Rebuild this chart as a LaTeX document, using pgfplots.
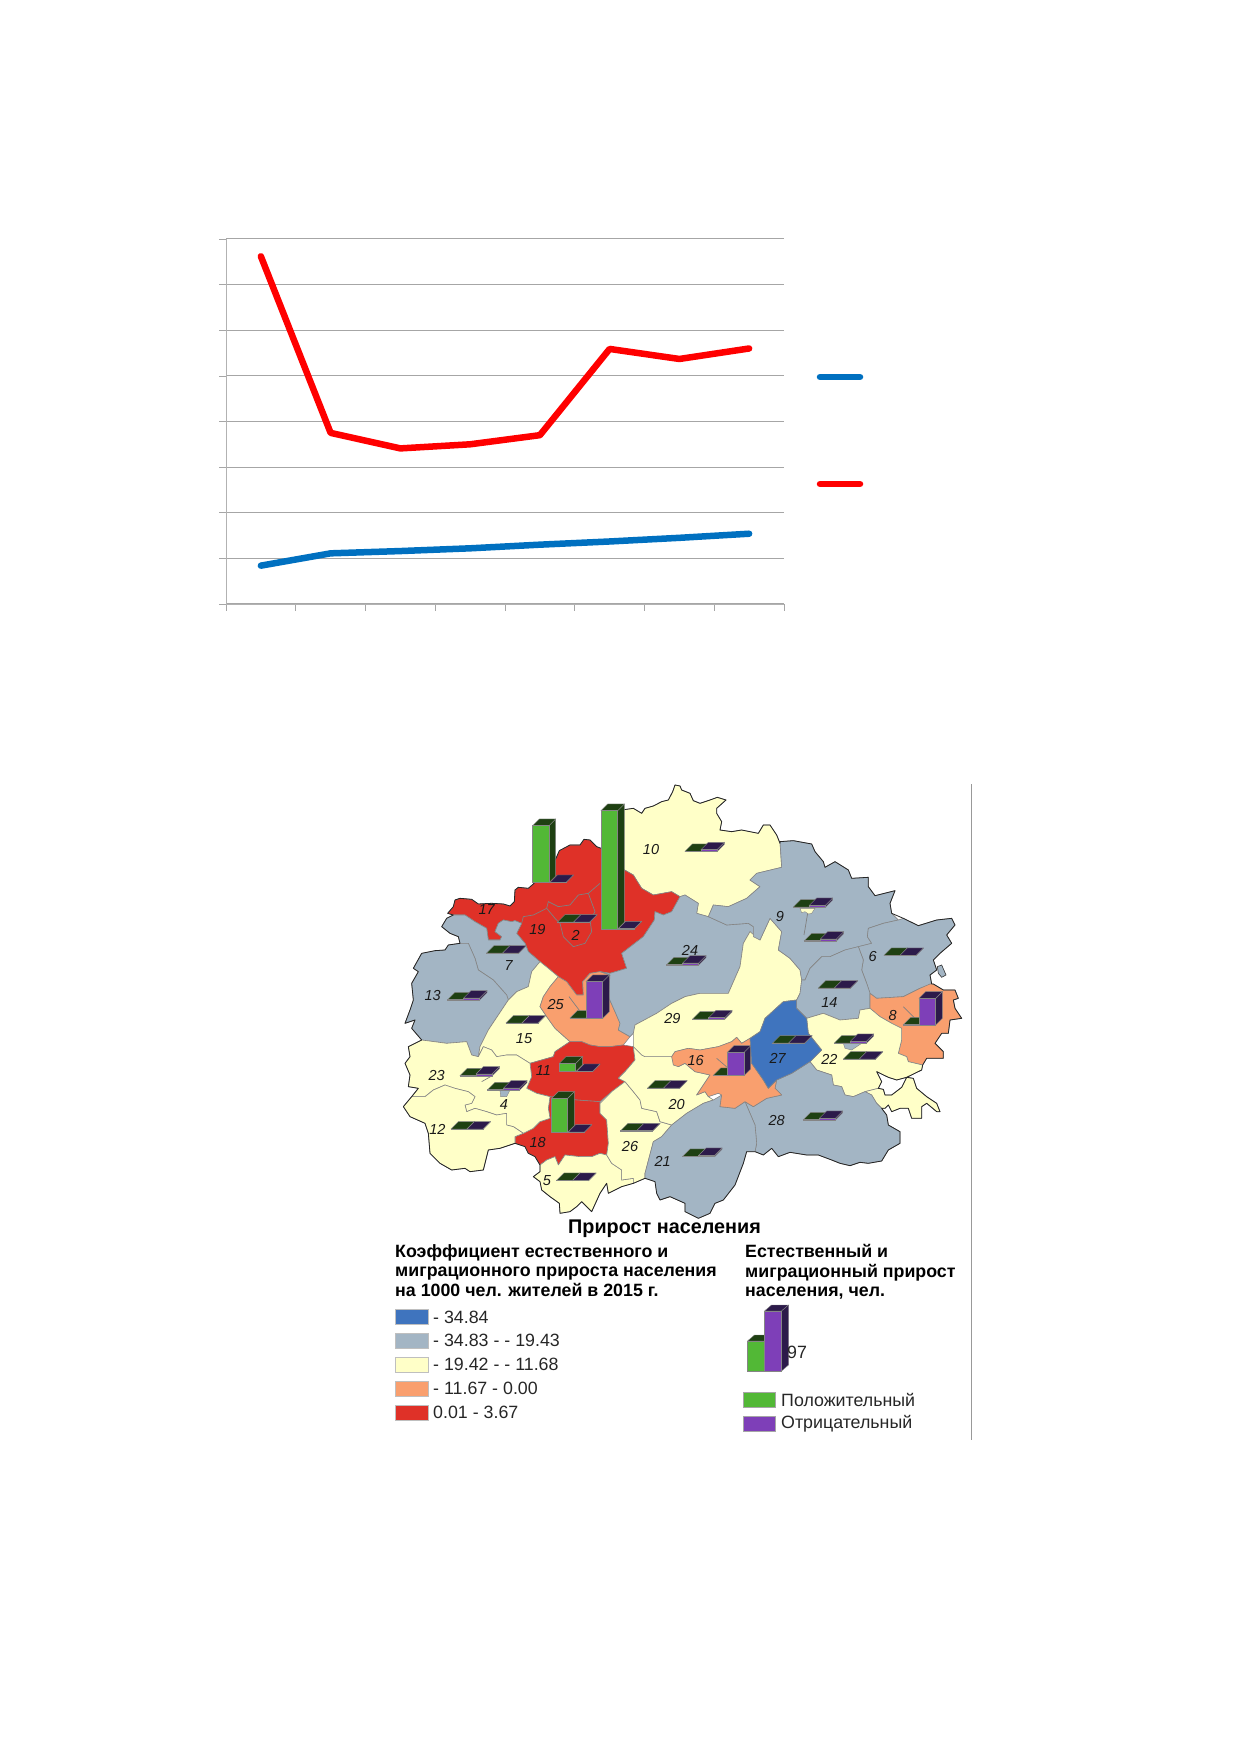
\documentclass[border=0pt]{standalone}
\usepackage{fontspec}
\setmainfont{Liberation Sans}
\usepackage{pgfplots}
\pgfplotsset{compat=1.18}
\definecolor{cgray}{HTML}{A3B5C4}
\definecolor{ccream}{HTML}{FFFFC8}
\definecolor{corange}{HTML}{F99F6E}
\definecolor{cred}{HTML}{DF3128}
\definecolor{cblue}{HTML}{3F74BE}
\definecolor{gfront}{HTML}{52B836}
\definecolor{gdark}{HTML}{1E4012}
\definecolor{pfront}{HTML}{7E3FB8}
\definecolor{pdark}{HTML}{2C1A4A}
\definecolor{bnd}{HTML}{858585}
\definecolor{lineblue}{HTML}{0070C0}
\newcommand\rg[2]{\addplot[fill=#1,draw=bnd,line width=0.6pt,line join=round] coordinates {#2} -- cycle;}
\newcommand\bx[7]{%
 \pgfmathsetmacro\xa{#1}\pgfmathsetmacro\xb{#1+#3}\pgfmathsetmacro\xc{#1+#3+#7}\pgfmathsetmacro\xd{#1+#7}%
 \pgfmathsetmacro\ya{#2}\pgfmathsetmacro\yb{#2-#4}\pgfmathsetmacro\yc{#2-#4-#7}\pgfmathsetmacro\yd{#2-#7}%
 \addplot[fill=#6,draw=bnd,line width=0.4pt] coordinates {(\xb,\ya)(\xc,\yd)(\xc,\yc)(\xb,\yb)} -- cycle;
 \addplot[fill=#6,draw=bnd,line width=0.4pt] coordinates {(\xa,\yb)(\xb,\yb)(\xc,\yc)(\xd,\yc)} -- cycle;
 \addplot[fill=#5,draw=bnd,line width=0.4pt] coordinates {(\xa,\ya)(\xb,\ya)(\xb,\yb)(\xa,\yb)} -- cycle;
}
\newcommand\flatP[3]{\bx{#1}{#2}{48}{#3}{pfront}{pdark}{22}}
\newcommand\flatG[2]{\bx{#1}{#2}{48}{1}{gfront}{gdark}{22}}
\newcommand\gl[3]{\flatG{#1}{#2}\pgfmathsetmacro\xq{#1+48}\flatP{\xq}{#2}{#3}}
\newcommand\lb[3]{\node[font=\fontsize{14.5}{16}\selectfont\itshape,text=black!90] at (axis cs:#1,#2) {#3};}
\begin{document}
\begin{tikzpicture}[x=1pt,y=1pt]
\path[use as bounding box] (0,0) rectangle (1239,1752);
% line chart
\begin{axis}[at={(226pt,1148pt)},anchor=south west,scale only axis,width=558pt,height=365pt,
 xmin=0,xmax=8,ymin=0,ymax=8,xtick={0,...,8},ytick={0,...,8},xticklabels={},yticklabels={},
 axis lines*=left,axis line style={-,draw=black!30,line width=0.8pt},
 ymajorgrids,grid style={draw=black!35,line width=1pt},
 tick align=outside,major tick length=7pt,tick style={draw=black!35,line width=0.7pt},clip=false]
\addplot[lineblue,line width=6.5pt,line cap=round,line join=round] coordinates {(0.5,0.84)(1.5,1.11)(2.5,1.16)(3.5,1.22)(4.5,1.30)(5.5,1.37)(6.5,1.45)(7.5,1.54)};
\addplot[red,line width=6.5pt,line cap=round,line join=round] coordinates {(0.5,7.62)(1.5,3.75)(2.5,3.41)(3.5,3.50)(4.5,3.70)(5.5,5.59)(6.5,5.37)(7.5,5.60)};
\end{axis}
% page overlay: legends
\begin{axis}[at={(0pt,0pt)},anchor=south west,scale only axis,width=1239pt,height=1752pt,
 xmin=0,xmax=1239,ymin=0,ymax=1752,y dir=reverse,hide axis,clip=false]
\addplot[lineblue,line width=6.5pt,line cap=round] coordinates {(820,377)(860,377)};
\addplot[red,line width=6.5pt,line cap=round] coordinates {(820,484)(860,484)};
\addplot[draw=black!40,line width=1pt] coordinates {(971,784)(971,1440)};
\addplot[fill=cblue,draw=black!25] coordinates {(395.5,1309)(428,1309)(428,1324)(395.5,1324)} -- cycle;
\addplot[fill=cgray,draw=black!25] coordinates {(395.5,1333)(428,1333)(428,1348)(395.5,1348)} -- cycle;
\addplot[fill=ccream,draw=black!25] coordinates {(395.5,1357)(428,1357)(428,1372)(395.5,1372)} -- cycle;
\addplot[fill=corange,draw=black!25] coordinates {(395.5,1381)(428,1381)(428,1396)(395.5,1396)} -- cycle;
\addplot[fill=cred,draw=black!25] coordinates {(395.5,1405)(428,1405)(428,1420)(395.5,1420)} -- cycle;
\addplot[fill=gfront,draw=black!35] coordinates {(743,1392)(775,1392)(775,1407)(743,1407)} -- cycle;
\addplot[fill=pfront,draw=black!35] coordinates {(743,1416)(775,1416)(775,1431)(743,1431)} -- cycle;
% legend bars
\addplot[fill=gdark,draw=bnd,line width=.4pt] coordinates {(747.5,1341)(754.5,1335)(771.5,1335)(764.5,1341)} -- cycle;
\addplot[fill=gfront,draw=bnd,line width=.4pt] coordinates {(747.5,1341)(764.5,1341)(764.5,1371)(747.5,1371)} -- cycle;
\addplot[fill=pdark,draw=bnd,line width=.4pt] coordinates {(764.5,1311)(771.5,1305)(788.5,1305)(781.5,1311)} -- cycle;
\addplot[fill=pdark,draw=bnd,line width=.4pt] coordinates {(781.5,1311)(788.5,1305)(788.5,1365)(781.5,1371)} -- cycle;
\addplot[fill=pfront,draw=bnd,line width=.4pt] coordinates {(764.5,1311)(781.5,1311)(781.5,1371)(764.5,1371)} -- cycle;
\node[font=\fontsize{19.8}{22}\selectfont\bfseries] at (axis cs:664.5,1229) {Прирост населения};
\node[font=\fontsize{17.8}{19.3}\selectfont\bfseries,anchor=north west,align=left,inner sep=0pt] at (axis cs:395,1244.5) {Коэффициент естественного и\\миграционного прироста населения\\на 1000 чел. жителей в 2015 г.};
\node[font=\fontsize{17.8}{19.3}\selectfont\bfseries,anchor=north west,align=left,inner sep=0pt] at (axis cs:745,1244.5) {Естественный и\\миграционный прирост\\населения, чел.};
\foreach \yy/\tt in {1317/{- 34.84},1340/{- 34.83 - - 19.43},1364/{- 19.42 - - 11.68},1388/{- 11.67 - 0.00},1412/{0.01 - 3.67}}{
 \edef\tmp{\noexpand\node[font=\noexpand\fontsize{17.8}{20}\noexpand\selectfont,anchor=west,inner sep=0pt,text=black!85] at (axis cs:433,\yy) {\tt};}\tmp}
\node[font=\fontsize{17.8}{20}\selectfont,anchor=west,inner sep=0pt,text=black!85] at (axis cs:781,1400) {Положительный};
\node[font=\fontsize{17.8}{20}\selectfont,anchor=west,inner sep=0pt,text=black!85] at (axis cs:781,1424) {Отрицательный};
\node[font=\fontsize{17.8}{20}\selectfont,inner sep=0pt,text=black!85] at (axis cs:797,1352) {97};
\end{axis}
% map: coordinates are (px-400)*3, (py-780)*3
\begin{axis}[at={(400pt,532pt)},anchor=south west,scale only axis,width=580pt,height=440pt,
 xmin=0,xmax=1740,ymin=0,ymax=1320,y dir=reverse,hide axis,clip=false]
% 10
\rg{ccream}{(665,90)(700,85)(725,100)(735,85)(760,78)(785,65)(805,60)(818,35)(825,15)(840,18)(845,30)(870,40)(880,62)(900,70)(930,60)(952,52)(978,60)(950,85)(950,100)(965,125)(960,150)(995,155)(1025,150)(1050,155)(1075,160)(1090,135)(1110,135)(1130,165)(1140,190)(1145,262)(1070,280)(1050,300)(1080,320)(1040,355)(985,380)(940,375)(925,410)(890,400)(895,370)(855,345)(840,350)(815,335)(760,345)(725,325)(700,285)(665,265)}
% red north
\rg{cred}{(143,400)(160,380)(165,360)(180,355)(215,358)(235,372)(275,370)(310,372)(330,378)(343,365)(345,330)(355,322)(385,325)(400,312)(447,260)(468,235)(478,212)(510,195)(540,195)(552,178)(570,180)(590,200)(603,205)(640,235)(665,265)(700,285)(725,325)(760,345)(815,335)(840,350)(815,395)(790,405)(765,395)(763,420)(730,470)(665,520)(680,565)(630,580)(600,575)(570,580)(548,605)(550,645)(530,645)(500,605)(475,590)(445,565)(420,545)(385,515)(375,490)(350,460)(365,430)(345,422)(335,425)(310,420)(295,430)(285,455)(305,470)(300,480)(265,480)(260,445)(225,425)(195,405)(160,405)}
\addplot[draw=black!50,line width=0.7pt] coordinates {(365,430)(370,410)(400,405)(440,385)(445,365)(475,380)(510,375)(535,345)(565,340)(600,310)};
\addplot[draw=black!50,line width=0.7pt] coordinates {(440,385)(465,415)(480,430)(490,470)(520,500)(555,490)(575,455)(570,420)(585,395)(565,340)};
% 7
\rg{cgray}{(125,440)(140,415)(160,405)(195,405)(225,425)(260,445)(265,480)(300,480)(305,470)(285,455)(295,430)(310,420)(335,425)(345,422)(365,430)(350,460)(375,490)(385,515)(420,545)(395,575)(385,620)(350,635)(325,660)(320,645)(280,600)(235,570)(225,535)(205,490)(180,490)(175,470)(150,460)}
% 13
\rg{cgray}{(65,520)(105,512)(135,510)(145,495)(180,490)(205,490)(225,535)(235,570)(280,600)(320,645)(325,660)(295,705)(265,750)(240,800)(235,830)(215,825)(200,785)(140,790)(65,780)(35,745)(45,720)(15,730)(30,690)(40,660)(35,610)(55,575)(40,565)}
% 15
\rg{ccream}{(420,545)(445,565)(475,590)(450,620)(430,650)(420,680)(440,710)(465,745)(510,785)(465,815)(460,830)(390,850)(350,825)(320,825)(290,830)(275,810)(250,800)(235,830)(240,800)(265,750)(295,705)(325,660)(350,635)(385,620)(395,575)}
% 25
\rg{corange}{(475,590)(500,605)(530,645)(550,645)(548,605)(570,580)(600,575)(630,585)(625,650)(645,695)(660,730)(655,750)(690,770)(670,795)(630,800)(600,800)(570,795)(545,785)(510,785)(465,745)(440,710)(420,680)(430,650)(450,620)}
% 24
\rg{cgray}{(600,575)(630,580)(680,565)(665,520)(730,470)(763,420)(765,395)(790,405)(815,395)(840,350)(855,345)(895,370)(890,400)(925,410)(980,435)(1045,430)(1060,440)(1060,470)(1050,455)(1030,490)(1020,560)(985,640)(900,640)(855,650)(815,670)(770,700)(705,735)(700,760)(690,770)(655,750)(660,730)(645,695)(625,650)(630,585)}
% 11
\rg{cred}{(510,785)(545,785)(570,795)(600,800)(630,800)(670,795)(700,800)(705,840)(675,875)(655,895)(675,905)(635,935)(600,965)(530,960)(450,950)(410,940)(380,925)(395,890)(390,850)(460,830)(465,815)}
% 18
\rg{cred}{(450,950)(530,960)(600,965)(600,1000)(620,1020)(625,1090)(620,1125)(600,1120)(575,1130)(540,1130)(495,1125)(475,1155)(465,1130)(440,1140)(420,1155)(405,1130)(385,1120)(375,1100)(345,1090)(345,1070)(370,1060)(400,1045)(420,1025)(450,1015)(445,985)}
% 5
\rg{ccream}{(420,1155)(440,1140)(465,1130)(475,1155)(495,1125)(540,1130)(575,1130)(600,1120)(620,1125)(635,1150)(665,1170)(665,1200)(700,1195)(700,1210)(665,1220)(625,1240)(620,1210)(600,1240)(575,1295)(545,1265)(530,1280)(510,1295)(480,1300)(478,1270)(450,1250)(425,1230)(420,1205)(400,1190)(420,1175)}
% 26
\rg{ccream}{(600,970)(635,935)(675,905)(700,935)(720,960)(725,985)(770,995)(780,1025)(815,1035)(785,1070)(760,1085)(735,1180)(735,1195)(700,1210)(700,1195)(665,1200)(665,1170)(635,1150)(620,1125)(625,1090)(620,1020)(600,1000)}
% 20
\rg{ccream}{(675,905)(655,895)(675,875)(705,840)(700,800)(725,825)(735,830)(815,830)(835,860)(855,850)(885,875)(930,885)(910,915)(890,945)(915,935)(925,950)(940,960)(910,970)(860,1000)(815,1035)(780,1025)(770,995)(725,985)(720,960)(700,935)}
% 29
\rg{ccream}{(700,800)(700,760)(705,735)(770,700)(815,670)(855,650)(900,640)(985,640)(1020,560)(1030,490)(1050,455)(1080,480)(1110,415)(1145,455)(1135,510)(1170,535)(1200,570)(1205,600)(1200,640)(1190,660)(1150,665)(1095,715)(1080,755)(1050,775)(1025,790)(1010,772)(995,785)(955,800)(900,810)(865,805)(825,815)(815,830)(735,830)(725,825)}
% 9
\rg{cgray}{(925,410)(940,375)(985,380)(1040,355)(1080,320)(1050,300)(1070,280)(1145,262)(1140,185)(1180,182)(1235,192)(1245,215)(1270,245)(1275,262)(1305,245)(1345,270)(1355,295)(1405,292)(1405,320)(1425,347)(1485,332)(1470,370)(1475,400)(1495,420)(1450,430)(1405,445)(1402,470)(1415,490)(1375,500)(1335,510)(1290,530)(1265,530)(1230,565)(1215,600)(1205,600)(1200,570)(1170,535)(1135,510)(1145,455)(1110,415)(1080,480)(1060,470)(1060,440)(1045,430)(980,435)}
\addplot[fill=ccream,draw=bnd,line width=.4pt] coordinates {(1200,385)(1245,385)(1235,400)(1225,402)(1215,395)(1205,398)} -- cycle;
\addplot[draw=black!50,line width=.7pt] coordinates {(1223,400)(1212,465)};
% 6
\rg{cgray}{(1495,420)(1510,415)(1555,437)(1610,420)(1655,415)(1665,435)(1640,465)(1655,490)(1620,520)(1600,540)(1610,570)(1590,585)(1595,612)(1560,625)(1510,650)(1430,655)(1410,640)(1400,610)(1385,570)(1390,540)(1375,500)(1415,490)(1402,470)(1405,445)(1450,430)}
% lake
\addplot[fill=cgray,draw=black!80,line width=.6pt] coordinates {(1612,560)(1625,555)(1638,585)(1625,592)(1615,580)} -- cycle;
% 14
\rg{cgray}{(1205,600)(1215,600)(1230,565)(1265,530)(1290,530)(1335,510)(1375,500)(1390,540)(1385,570)(1400,610)(1410,640)(1410,685)(1380,690)(1375,715)(1320,720)(1270,700)(1220,715)(1190,685)(1190,660)(1200,640)}
% 8
\rg{corange}{(1410,640)(1430,655)(1510,650)(1560,625)(1590,612)(1600,612)(1630,630)(1665,630)(1675,655)(1660,660)(1665,685)(1685,715)(1650,720)(1645,760)(1625,760)(1605,790)(1630,815)(1630,835)(1580,835)(1568,855)(1525,845)(1520,830)(1495,820)(1505,780)(1505,745)(1475,730)(1440,710)(1410,685)}
% 22
\rg{ccream}{(1220,715)(1270,700)(1320,720)(1375,715)(1380,690)(1410,685)(1440,710)(1475,730)(1505,745)(1505,780)(1495,820)(1520,830)(1525,845)(1568,855)(1565,870)(1520,892)(1490,900)(1465,892)(1430,875)(1445,905)(1435,925)(1395,935)(1360,950)(1335,945)(1325,920)(1300,915)(1295,885)(1250,870)(1230,845)(1265,810)(1225,760)}
\addplot[fill=cgray,draw=bnd,line width=.4pt] coordinates {(1330,790)(1355,785)(1385,790)(1355,810)(1335,805)} -- cycle;
% east cream
\rg{ccream}{(1520,892)(1540,895)(1550,925)(1580,950)(1610,970)(1620,995)(1610,995)(1580,970)(1565,980)(1565,1015)(1535,1015)(1525,985)(1500,985)(1475,995)(1465,975)(1455,985)(1445,985)(1430,970)(1415,945)(1395,935)(1435,925)(1450,928)(1455,945)(1475,945)(1505,922)}
% 28
\rg{cgray}{(1130,900)(1175,880)(1230,845)(1250,870)(1295,885)(1300,915)(1325,920)(1335,945)(1360,950)(1395,935)(1415,945)(1430,970)(1445,985)(1460,1005)(1465,1035)(1500,1055)(1500,1090)(1465,1110)(1445,1143)(1405,1150)(1380,1147)(1350,1157)(1320,1150)(1295,1140)(1255,1125)(1220,1125)(1170,1117)(1135,1130)(1115,1105)(1090,1125)(1065,1115)(1070,1090)(1065,1035)(1050,1000)(1035,965)(1060,980)(1100,955)(1145,945)(1125,925)}
% 21
\rg{cgray}{(815,1035)(860,1000)(910,970)(940,960)(965,945)(960,980)(1005,985)(1035,965)(1050,1000)(1065,1035)(1070,1090)(1065,1115)(1040,1115)(1030,1150)(1005,1215)(970,1260)(945,1270)(930,1300)(895,1315)(855,1295)(855,1270)(810,1250)(780,1260)(770,1240)(765,1205)(735,1195)(735,1180)(760,1085)(785,1070)}
% 16
\rg{corange}{(825,815)(865,805)(900,810)(955,800)(995,785)(1010,772)(1025,790)(1050,775)(1055,850)(1090,900)(1105,925)(1130,900)(1125,925)(1145,945)(1100,955)(1060,980)(1035,965)(1005,985)(960,980)(965,945)(955,940)(925,950)(915,935)(890,945)(910,915)(930,885)(885,875)(855,850)(835,860)(820,855)(815,830)}
% 27
\rg{cblue}{(1050,775)(1080,755)(1095,715)(1150,665)(1190,660)(1190,685)(1220,715)(1225,760)(1265,810)(1230,845)(1175,880)(1130,900)(1105,925)(1090,900)(1055,850)}
% 23 and 4
\rg{ccream}{(65,780)(140,790)(200,785)(215,825)(235,830)(250,800)(275,810)(290,830)(320,825)(350,825)(390,850)(395,890)(380,925)(410,940)(450,950)(445,985)(450,1015)(420,1025)(400,1045)(370,1060)(340,1040)(320,1035)(320,1000)(290,1005)(260,995)(225,985)(200,995)(195,975)(215,970)(225,950)(205,935)(165,925)(135,915)(100,930)(75,950)(35,950)(55,925)(25,920)(30,885)(15,850)(30,830)(25,800)}
% 12
\rg{ccream}{(35,950)(75,950)(100,930)(135,915)(165,925)(205,935)(225,950)(215,970)(195,975)(200,995)(225,985)(260,995)(290,1005)(320,1000)(320,1035)(340,1040)(370,1060)(345,1070)(345,1090)(330,1095)(300,1105)(265,1110)(250,1170)(210,1175)(195,1165)(155,1170)(120,1150)(90,1120)(85,1060)(75,1030)(30,1010)(10,980)}
\addplot[fill=cgray,draw=bnd,line width=.4pt] coordinates {(300,930)(330,930)(320,950)(302,950)} -- cycle;
\addplot[draw=black!50,line width=.7pt] coordinates {(245,905)(275,888)};
\addplot[draw=black!50,line width=.7pt] coordinates {(507,650)(541,695)};
\addplot[draw=black!50,line width=.7pt] coordinates {(1510,680)(1545,715)};
\addplot[draw=black!50,line width=.7pt] coordinates {(950,835)(985,865)};
% outline
\addplot[draw=black!85,line width=0.8pt,line join=round] coordinates {(143,400)(160,380)(165,360)(180,355)(215,358)(235,372)(275,370)(310,372)(330,378)(343,365)(345,330)(355,322)(385,325)(400,312)(447,260)(468,235)(478,212)(510,195)(540,195)(552,178)(570,180)(590,200)(603,205)(640,150)(665,90)(700,85)(725,100)(735,85)(760,78)(785,65)(805,60)(818,35)(825,15)(840,18)(845,30)(870,40)(880,62)(900,70)(930,60)(952,52)(978,60)(950,85)(950,100)(965,125)(960,150)(995,155)(1025,150)(1050,155)(1075,160)(1090,135)(1110,135)(1130,165)(1140,190)(1140,185)(1180,182)(1235,192)(1245,215)(1270,245)(1275,262)(1305,245)(1345,270)(1355,295)(1405,292)(1405,320)(1425,347)(1485,332)(1470,370)(1475,400)(1510,415)(1555,437)(1610,420)(1655,415)(1665,435)(1640,465)(1655,490)(1620,520)(1600,540)(1610,570)(1590,585)(1595,612)(1600,612)(1630,630)(1665,630)(1675,655)(1660,660)(1665,685)(1685,715)(1650,720)(1645,760)(1625,760)(1605,790)(1630,815)(1630,835)(1580,835)(1568,855)(1565,870)(1520,892)(1490,900)(1465,892)(1430,875)(1445,905)(1435,925)(1450,928)(1455,945)(1475,945)(1505,922)(1520,892)(1540,895)(1550,925)(1580,950)(1610,970)(1620,995)(1610,995)(1580,970)(1565,980)(1565,1015)(1535,1015)(1525,985)(1500,985)(1475,995)(1465,975)(1455,985)(1445,985)(1460,1005)(1465,1035)(1500,1055)(1500,1090)(1465,1110)(1445,1143)(1405,1150)(1380,1147)(1350,1157)(1320,1150)(1295,1140)(1255,1125)(1220,1125)(1170,1117)(1135,1130)(1115,1105)(1090,1125)(1065,1115)(1040,1115)(1030,1150)(1005,1215)(970,1260)(945,1270)(930,1300)(895,1315)(855,1295)(855,1270)(810,1250)(780,1260)(770,1240)(765,1205)(735,1195)(700,1210)(665,1220)(625,1240)(620,1210)(600,1240)(575,1295)(545,1265)(530,1280)(510,1295)(480,1300)(478,1270)(450,1250)(425,1230)(420,1205)(400,1190)(420,1175)(420,1155)(405,1130)(385,1120)(375,1100)(345,1090)(330,1095)(300,1105)(265,1110)(250,1170)(210,1175)(195,1165)(155,1170)(120,1150)(90,1120)(85,1060)(75,1030)(30,1010)(10,980)(35,950)(55,925)(25,920)(30,885)(15,850)(30,830)(25,800)(65,780)(35,745)(45,720)(15,730)(30,690)(40,660)(35,610)(55,575)(40,565)(65,520)(105,512)(135,510)(145,495)(180,490)(175,470)(150,460)(125,440)(140,415)(160,405)} -- cycle;
% bars
\gl{855}{215}{6}
\bx{398}{308}{49}{171}{gfront}{gdark}{20}
\flatP{450}{308}{1}
\bx{603}{447}{50}{355}{gfront}{gdark}{20}
\flatP{655}{447}{1}
\gl{473}{427}{1}
\gl{260}{520}{1}
\gl{143}{660}{6}
\gl{800}{555}{6}
\gl{1180}{382}{6}
\gl{1213}{483}{6}
\gl{1452}{527}{1}
\gl{1255}{625}{1}
\flatG{510}{715}
\bx{558}{715}{50}{110}{pfront}{pdark}{20}
\flatG{1510}{735}
\bx{1557}{735}{50}{80}{pfront}{pdark}{20}
\flatG{940}{887}
\bx{982}{887}{50}{70}{pfront}{pdark}{20}
\gl{878}{718}{5}
\gl{318}{730}{1}
\gl{1118}{790}{1}
\gl{1303}{790}{6}
\gl{1330}{838}{1}
\gl{743}{925}{1}
\gl{180}{888}{6}
\gl{263}{930}{6}
\bx{478}{875}{49}{25}{gfront}{gdark}{20}
\flatP{530}{875}{1}
\bx{455}{1057}{48}{102}{gfront}{gdark}{20}
\flatP{505}{1057}{1}
\gl{153}{1048}{1}
\gl{662}{1053}{1}
\gl{1210}{1020}{5}
\gl{848}{1130}{4}
\gl{470}{1202}{1}
% labels
\lb{753}{210}{10}\lb{260}{390}{17}\lb{412}{450}{19}\lb{527}{467}{2}\lb{1140}{410}{9}\lb{870}{512}{24}
\lb{1418}{530}{6}\lb{326}{558}{7}\lb{98}{648}{13}\lb{467}{673}{25}\lb{817}{717}{29}\lb{1288}{668}{14}
\lb{1478}{707}{8}\lb{372}{775}{15}\lb{887}{843}{16}\lb{1133}{835}{27}\lb{1288}{837}{22}\lb{430}{873}{11}
\lb{110}{888}{23}\lb{312}{975}{4}\lb{830}{973}{20}\lb{112}{1048}{12}\lb{1130}{1023}{28}\lb{413}{1087}{18}
\lb{690}{1100}{26}\lb{788}{1145}{21}\lb{441}{1202}{5}
\end{axis}
\end{tikzpicture}
\end{document}
